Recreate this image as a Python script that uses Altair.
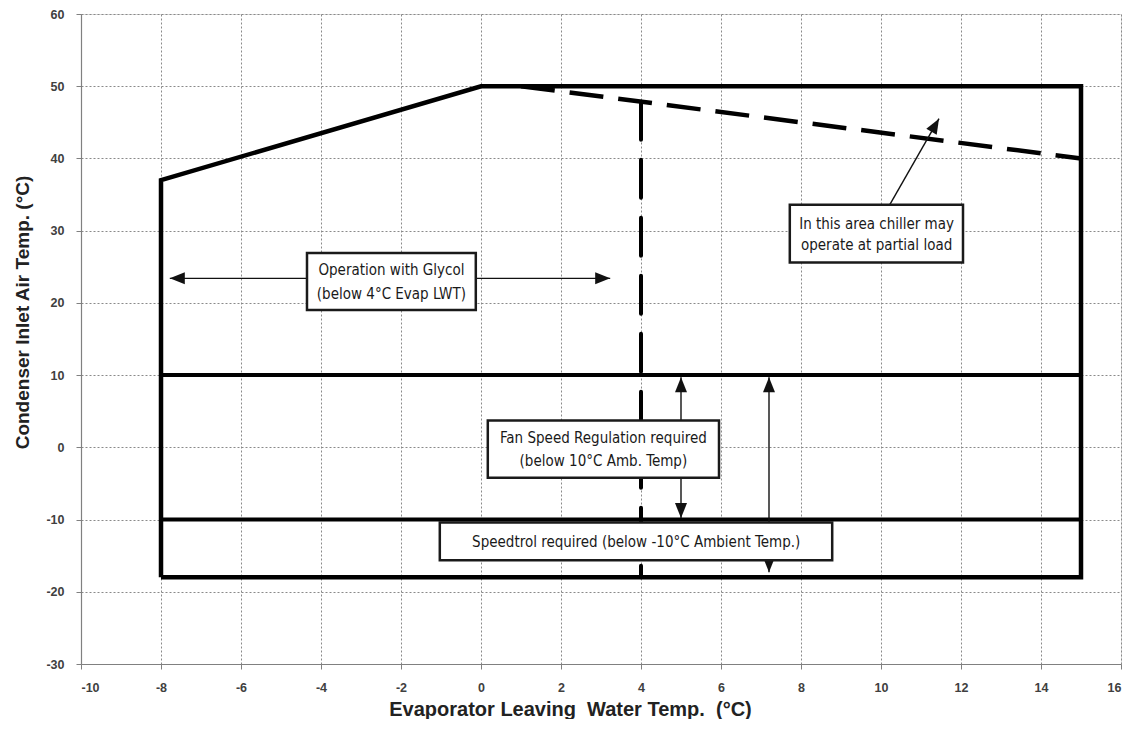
import altair as alt
import pandas as pd

# ---- data ----
env_x = [-8, -8, 0, 15, 15, -8]
env_y = [-18, 37, 50, 50, -18, -18]
limit_y = [10, -10]
limit_x0 = [-8, -8]
limit_x1 = [15, 15]
partial_x = [1, 15]
partial_y = [50, 40]
glycol_x = [4, 4]
glycol_y = [47.86, -18]

box_names = ["glycol", "partial", "fan", "speedtrol"]
box_x0 = [-4.35, 7.72, 0.17, -1.03]
box_x1 = [-0.13, 12.05, 5.95, 8.78]
box_y0 = [19.0, 25.6, -4.2, -15.65]
box_y1 = [26.9, 33.6, 3.7, -10.4]

label_text = ["Operation with Glycol", "(below 4°C Evap LWT)",
              "In this area chiller may", "operate at partial load",
              "Fan Speed Regulation required", "(below 10°C Amb. Temp)",
              "Speedtrol required (below -10°C Ambient Temp.)"]
label_x = [-2.24, -2.24, 9.89, 9.89, 3.06, 3.06, 3.88]
label_y = [24.5, 21.2, 30.9, 28.0, 1.33, -1.84, -13.1]

shaft_x0 = [-4.35, -0.13, 10.22, 5.0, 5.0, 7.2]
shaft_y0 = [23.4, 23.4, 33.6, 3.7, -4.2, -17.3]
shaft_x1 = [-7.78, 3.23, 11.45, 5.0, 5.0, 7.2]
shaft_y1 = [23.4, 23.4, 45.5, 9.7, -9.8, 9.7]

head_x = [-7.78, 3.23, 11.45, 5.0, 5.0, 7.2, 7.2]
head_y = [23.4, 23.4, 45.5, 9.7, -9.8, 9.7, -17.3]
head_angle = [270, 90, 30, 0, 180, 0, 180]

x_ticks = list(range(-10, 17, 2))
y_ticks = list(range(-30, 61, 10))

X_TITLE = "Evaporator Leaving\u00a0 Water Temp.\u00a0 (°C)"
Y_TITLE = "Condenser Inlet Air Temp. (°C)"
BOX_FONT = "Liberation Sans Narrow, Arial Narrow, DejaVu Sans Condensed, sans-serif"

xs = alt.Scale(domain=[-10, 16], nice=False, zero=False)
ys = alt.Scale(domain=[-30, 60], nice=False, zero=False)

common_axis = dict(
    grid=True, gridDash=[2, 2], gridColor="#8a8a8a", gridWidth=1,
    domainColor="#808080", domainWidth=1.2, tickColor="#808080", tickSize=5,
    labelFont="Liberation Sans", labelFontSize=12.5, labelFontWeight="bold",
    labelColor="#404040", labelPadding=12,
    labelExpr="'' + datum.value",
    titleFont="Liberation Sans", titleFontWeight="bold",
    titleColor="#222222",
)
xaxis = alt.Axis(values=x_ticks, title=X_TITLE, titleX=489, titleY=45,
                 titleFontSize=20,
                 titleAlign="center", titleBaseline="middle", **common_axis)
yaxis = alt.Axis(values=y_ticks, title=Y_TITLE, titleX=-59, titleY=298,
                 titleFontSize=19,
                 titleAngle=270, titleAlign="center", titleBaseline="middle",
                 **common_axis)


def X(f="x"):
    return alt.X(f"{f}:Q", scale=xs, axis=xaxis, title=X_TITLE)


def Y(f="y"):
    return alt.Y(f"{f}:Q", scale=ys, axis=yaxis, title=Y_TITLE)


env_df = pd.DataFrame({"x": env_x, "y": env_y, "o": range(len(env_x))})
limit_df = pd.DataFrame({"x": limit_x0, "x2": limit_x1, "y": limit_y})
partial_df = pd.DataFrame({"x": partial_x, "y": partial_y, "o": [0, 1]})
glycol_df = pd.DataFrame({"x": glycol_x, "y": glycol_y, "o": [0, 1]})
box_df = pd.DataFrame({"name": box_names, "x": box_x0, "x2": box_x1,
                       "y": box_y0, "y2": box_y1})
label_df = pd.DataFrame({"t": label_text, "x": label_x, "y": label_y})
shaft_df = pd.DataFrame({"x": shaft_x0, "y": shaft_y0, "x2": shaft_x1, "y2": shaft_y1})
head_df = pd.DataFrame({"x": head_x, "y": head_y, "a": head_angle})

env = alt.Chart(env_df).mark_line(color="black", strokeWidth=4.5, strokeJoin="miter").encode(
    x=X(), y=Y(), order="o:Q")
limits = alt.Chart(limit_df).mark_rule(color="black", strokeWidth=4).encode(
    x=X(), x2="x2:Q", y=Y())
partial = alt.Chart(partial_df).mark_line(color="black", strokeWidth=4.5,
                                          strokeDash=[34, 15]).encode(
    x=X(), y=Y(), order="o:Q")
glycol = alt.Chart(glycol_df).mark_line(color="black", strokeWidth=4,
                                        strokeDash=[38, 20], strokeCap="round").encode(
    x=X(), y=Y(), order="o:Q")
shafts = alt.Chart(shaft_df).mark_rule(color="#111111", strokeWidth=1.4).encode(
    x=X(), y=Y(), x2="x2:Q", y2="y2:Q")
heads = alt.Chart(head_df).mark_point(
    shape="M0,0L-0.8,2L0.8,2Z", size=225, filled=True, color="#111111", opacity=1,
    strokeWidth=0).encode(x=X(), y=Y(), angle=alt.Angle("a:Q", scale=None))
boxes = alt.Chart(box_df).mark_rect(fill="white", stroke="#1a1a1a", strokeWidth=2.5).encode(
    x=X(), x2="x2:Q", y=Y(), y2="y2:Q")
labels = alt.Chart(label_df).mark_text(font=BOX_FONT, fontSize=15, color="#1a1a1a",
                                       baseline="middle", align="center").encode(
    x=X(), y=Y(), text="t:N")

chart = alt.layer(env, limits, partial, glycol, shafts, heads, boxes, labels).properties(
    width=1040, height=650,
    padding={"left": 73, "top": 6, "right": 7, "bottom": 55},
    autosize="none",
).configure_view(stroke=None).configure(background="white")

chart.save("out.html", embed_options={"renderer": "svg", "actions": False})
